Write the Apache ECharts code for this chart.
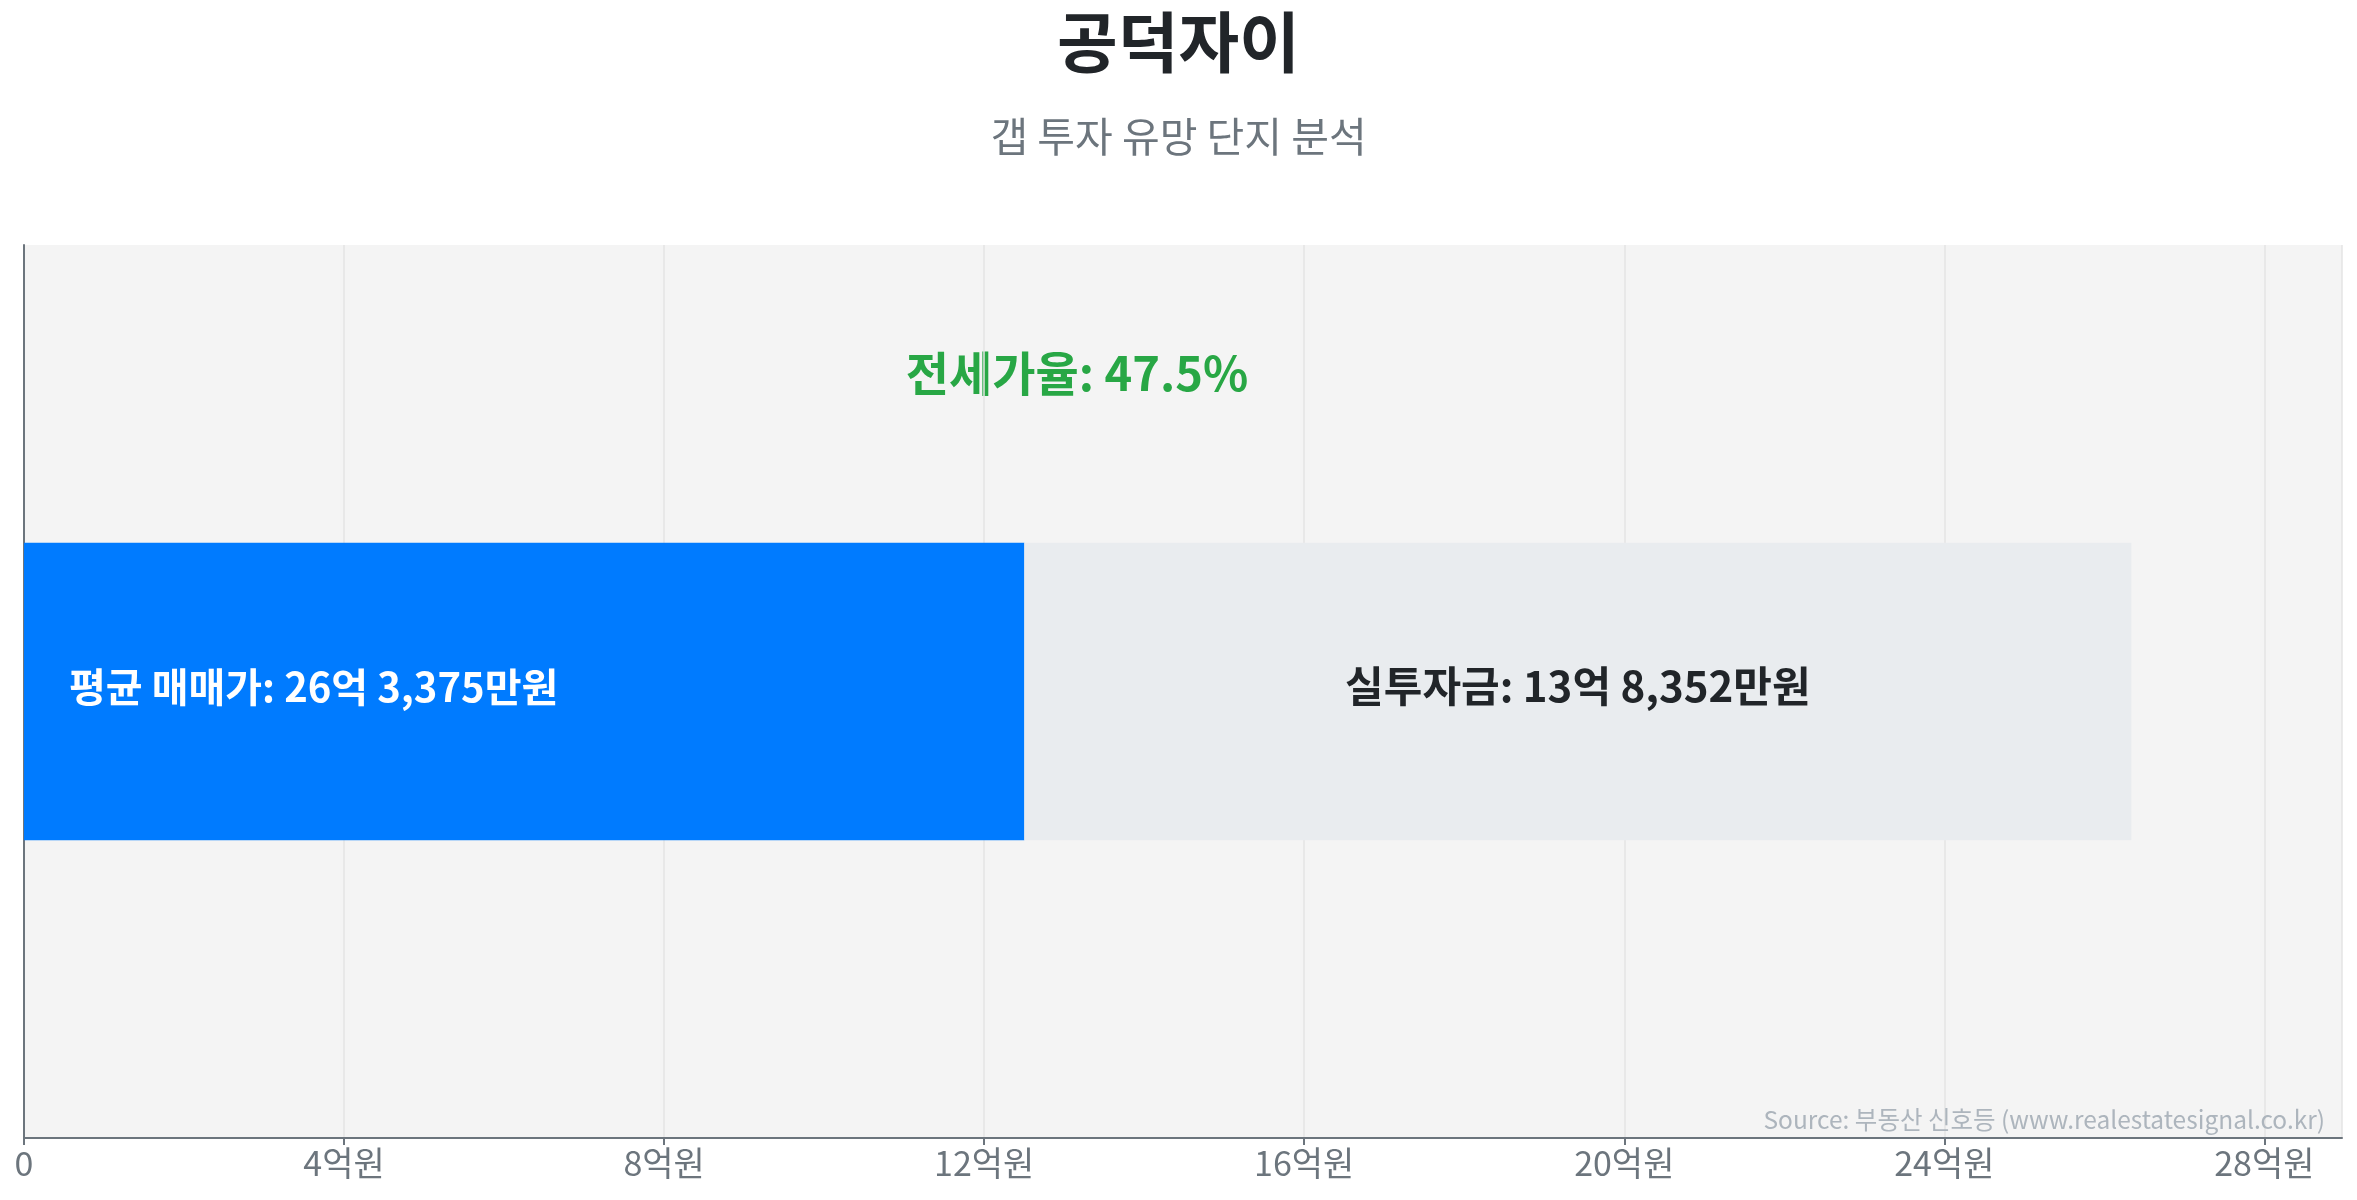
<!DOCTYPE html>
<html>
<head>
<meta charset="utf-8">
<script src="https://cdn.jsdelivr.net/npm/echarts@6/dist/echarts.min.js"></script>
<style>
  html, body { margin: 0; padding: 0; background: #fff; }
  #main { width: 2357px; height: 1200px; }
</style>
</head>
<body>
<div id="main"></div>
<script>
// values in 만원
var categories = ['공덕자이'];
var jeonseValues = [125023];     // 전세가 (blue part)
var investValues = [138352];     // 실투자금 (gray part)
var priceValues = [263375];      // 평균 매매가
var jeonseRatio = [47.5];
var axisMax = 289700;
var axisStep = 40000;

var FONT = '"Noto Sans CJK KR", "Noto Sans", sans-serif';

function won(v) {
  var eok = Math.floor(v / 10000);
  var man = v % 10000;
  return eok + '억 ' + man.toLocaleString('en-US') + '만원';
}

var dom = document.getElementById('main');
var myChart = echarts.init(dom);

var option = {
  backgroundColor: '#ffffff',
  textStyle: { fontFamily: FONT },
  title: [{
    text: categories[0],
    left: 'center',
    top: 4,
    textStyle: { fontSize: 66, lineHeight: 66, fontWeight: 'bold', color: '#212529', fontFamily: FONT }
  }, {
    text: '갭 투자 유망 단지 분석',
    left: 'center',
    top: 111,
    textStyle: { fontSize: 41, lineHeight: 40, fontWeight: 'normal', color: '#6c757d', fontFamily: FONT }
  }, {
    text: 'Source: 부동산 신호등 (www.realestatesignal.co.kr)',
    right: 27,
    bottom: 63,
    textStyle: { fontSize: 24.5, lineHeight: 24, fontWeight: 'normal', color: '#adb5bd', fontFamily: FONT }
  }],
  graphic: [{
    type: 'text',
    x: 1077,
    y: 373,
    style: {
      text: '전세가율: ' + jeonseRatio[0] + '%',
      fill: '#28a745',
      font: 'bold 47px ' + FONT,
      textAlign: 'center',
      textVerticalAlign: 'middle'
    }
  }],
  grid: {
    left: 24,
    right: 15,
    top: 245,
    bottom: 62,
    show: true,
    backgroundColor: '#f4f4f4',
    borderWidth: 0
  },
  xAxis: {
    type: 'value',
    min: 0,
    max: axisMax,
    interval: axisStep,
    axisLine: { show: true, lineStyle: { color: '#6c757d', width: 2 } },
    axisTick: { show: true, length: 7, lineStyle: { color: '#6c757d', width: 2 } },
    axisLabel: {
      color: '#6c757d',
      fontSize: 34,
      margin: 8,
      fontFamily: FONT,
      formatter: function (v) { return v === 0 ? '0' : (v / 10000) + '억원'; }
    },
    splitLine: { show: true, lineStyle: { color: '#e4e4e4', width: 1.5 } }
  },
  yAxis: {
    type: 'category',
    data: categories,
    axisLine: { show: true, lineStyle: { color: '#6c757d', width: 2 } },
    axisTick: { show: false },
    axisLabel: { show: false },
    splitLine: { show: false }
  },
  series: [{
    name: '전세가',
    type: 'bar',
    stack: 'total',
    barWidth: '33.3%',
    data: jeonseValues,
    itemStyle: { color: '#007bff' },
    label: {
      show: true,
      position: 'insideLeft',
      distance: 45,
      offset: [0, -5],
      color: '#ffffff',
      fontSize: 40,
      fontWeight: 'bold',
      fontFamily: FONT,
      formatter: function (p) { return '평균 매매가: ' + won(priceValues[p.dataIndex]); }
    }
  }, {
    name: '실투자금',
    type: 'bar',
    stack: 'total',
    data: investValues,
    itemStyle: { color: '#e9ecef' },
    label: {
      show: true,
      position: 'inside',
      offset: [0, -5],
      color: '#212529',
      fontSize: 42,
      fontWeight: 'bold',
      fontFamily: FONT,
      formatter: function (p) { return '실투자금: ' + won(investValues[p.dataIndex]); }
    }
  }]
};

myChart.setOption(option);
</script>
</body>
</html>
